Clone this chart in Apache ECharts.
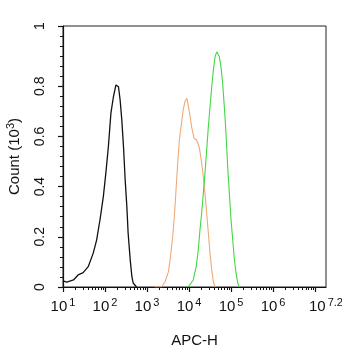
<!DOCTYPE html>
<html>
<head>
<meta charset="utf-8">
<script src="https://cdn.jsdelivr.net/npm/echarts@6/dist/echarts.min.js"></script>
<style>
  html, body { margin: 0; padding: 0; background: #fff; }
  #chart { width: 342px; height: 350px; }
</style>
</head>
<body>
<div id="chart"></div>
<script>
// Flow cytometry histograms: x in decades (log10 of APC-H), y in counts (x10^3)

// Isotype / unstained control (black)
const controlExp   = [1.00, 1.09, 1.25, 1.36, 1.48, 1.60, 1.72, 1.80, 1.88, 1.96, 2.02, 2.08, 2.14, 2.20, 2.26, 2.30, 2.32, 2.36, 2.40, 2.44, 2.48, 2.52, 2.55, 2.60, 2.64, 2.67, 2.75];
const controlCount = [0.024, 0.019, 0.028, 0.048, 0.057, 0.081, 0.135, 0.187, 0.267, 0.360, 0.454, 0.559, 0.692, 0.758, 0.805, 0.800, 0.798, 0.745, 0.665, 0.559, 0.426, 0.320, 0.215, 0.108, 0.041, 0.016, 0.000];

// Sample 1 (orange)
const sampleAExp   = [3.19, 3.35, 3.43, 3.51, 3.56, 3.61, 3.65, 3.69, 3.73, 3.77, 3.81, 3.86, 3.90, 3.95, 3.98, 4.02, 4.06, 4.12, 4.18, 4.24, 4.28, 4.33, 4.38, 4.42, 4.46, 4.50, 4.54, 4.58, 4.62];
const sampleACount = [0.000, 0.001, 0.021, 0.061, 0.121, 0.200, 0.280, 0.386, 0.493, 0.586, 0.639, 0.705, 0.738, 0.752, 0.725, 0.685, 0.639, 0.592, 0.586, 0.559, 0.519, 0.453, 0.373, 0.294, 0.214, 0.134, 0.068, 0.021, 0.000];

// Sample 2 (green)
const sampleBExp   = [3.98, 4.02, 4.10, 4.17, 4.22, 4.26, 4.30, 4.34, 4.38, 4.42, 4.46, 4.50, 4.54, 4.58, 4.62, 4.66, 4.68, 4.72, 4.76, 4.80, 4.84, 4.88, 4.92, 4.96, 5.00, 5.04, 5.08, 5.12, 5.16, 5.20];
const sampleBCount = [0.000, 0.001, 0.028, 0.081, 0.147, 0.227, 0.294, 0.373, 0.453, 0.546, 0.639, 0.718, 0.798, 0.865, 0.918, 0.937, 0.944, 0.918, 0.878, 0.812, 0.718, 0.612, 0.479, 0.373, 0.267, 0.187, 0.108, 0.055, 0.015, 0.000];

// Axis ticks and their labels
const xTickExp   = [1, 2, 3, 4, 5, 6, 7.26];
const xTickText  = ['1', '2', '3', '4', '5', '6', '7.2'];
const xMajorTick = [1, 2, 3, 4, 5, 6, 7];
const yTickVal   = [0, 0.2, 0.4, 0.6, 0.8, 1.04];
const yTickText  = ['0', '0.2', '0.4', '0.6', '0.8', '1'];

const X_MIN = 1, X_MAX = 7.26, Y_MIN = 0, Y_MAX = 1.04;

// minor log ticks (2..9 within each decade)
const xMinorTick = [];
for (let d = 1; d < 8; d++) {
  for (let k = 2; k <= 9; k++) {
    const v = d + Math.log10(k);
    if (v < X_MAX) xMinorTick.push(v);
  }
}

const pairs = (xs, ys) => xs.map((x, i) => [x, ys[i]]);
const FONT = 'Liberation Sans';

const chart = echarts.init(document.getElementById('chart'), null, { renderer: 'canvas' });

chart.setOption({
  animation: false,
  backgroundColor: '#fff',
  grid: {
    left: 63, right: 16, top: 26, bottom: 63,
    outerBoundsMode: 'none', containLabel: false,
    show: true, borderColor: '#222', borderWidth: 1, backgroundColor: 'transparent'
  },
  xAxis: [
    {
      type: 'value', min: X_MIN, max: X_MAX, position: 'bottom',
      name: 'APC-H', nameLocation: 'middle', nameGap: 46,
      nameTextStyle: { fontFamily: FONT, fontSize: 15, color: '#111' },
      splitLine: { show: false },
      axisLine: { show: true, lineStyle: { color: '#111', width: 1.2 } },
      axisTick: { show: true, customValues: xMajorTick, length: 5, inside: false, lineStyle: { color: '#111', width: 1.2 } },
      axisLabel: {
        show: true, customValues: xTickExp, margin: 10,
        formatter: v => {
          const i = xTickExp.findIndex(t => Math.abs(t - v) < 1e-6);
          return '{b|10}{s|' + (i >= 0 ? xTickText[i] : '') + '}';
        },
        rich: {
          b: { fontFamily: FONT, fontSize: 15, color: '#111', lineHeight: 20 },
          s: { fontFamily: FONT, fontSize: 11, color: '#111', padding: [0, 0, 9, 2] }
        }
      }
    },
    {
      type: 'value', min: X_MIN, max: X_MAX, position: 'bottom',
      splitLine: { show: false },
      axisLine: { show: false },
      axisTick: { show: true, customValues: xMinorTick, length: 3, lineStyle: { color: '#111', width: 1 } },
      axisLabel: { show: false }
    }
  ],
  yAxis: [
    {
      type: 'value', min: Y_MIN, max: Y_MAX, position: 'left',
      name: '{b|Count (10}{s|3}{b|)}', nameLocation: 'middle', nameGap: 38, nameRotate: 90,
      nameTextStyle: {
        rich: {
          b: { fontFamily: FONT, fontSize: 15, color: '#111', lineHeight: 20 },
          s: { fontFamily: FONT, fontSize: 11, color: '#111', padding: [0, 0, 9, 0] }
        }
      },
      splitLine: { show: false },
      axisLine: { show: true, lineStyle: { color: '#111', width: 1.2 } },
      axisTick: { show: true, customValues: yTickVal, length: 5, lineStyle: { color: '#111', width: 1.2 } },
      axisLabel: {
        show: true, customValues: yTickVal, rotate: 90, margin: 16,
        fontFamily: FONT, fontSize: 14, color: '#111',
        formatter: v => {
          const i = yTickVal.findIndex(t => Math.abs(t - v) < 1e-6);
          return i >= 0 ? yTickText[i] : '';
        }
      }
    },
    {
      type: 'value', min: Y_MIN, max: Y_MAX, interval: 0.04, position: 'left',
      splitLine: { show: false },
      axisLine: { show: false },
      axisTick: { show: true, length: 3, lineStyle: { color: '#111', width: 1 } },
      axisLabel: { show: false }
    }
  ],
  series: [
    {
      type: 'line', xAxisIndex: 0, yAxisIndex: 0, showSymbol: false,
      data: pairs(controlExp, controlCount),
      lineStyle: { color: '#111', width: 1.3 }
    },
    {
      type: 'line', xAxisIndex: 0, yAxisIndex: 0, showSymbol: false,
      data: pairs(sampleAExp, sampleACount),
      lineStyle: { color: '#eeaa78', width: 1.1 }
    },
    {
      type: 'line', xAxisIndex: 0, yAxisIndex: 0, showSymbol: false,
      data: pairs(sampleBExp, sampleBCount),
      lineStyle: { color: '#44d644', width: 1.1 }
    }
  ]
});
</script>
</body>
</html>
